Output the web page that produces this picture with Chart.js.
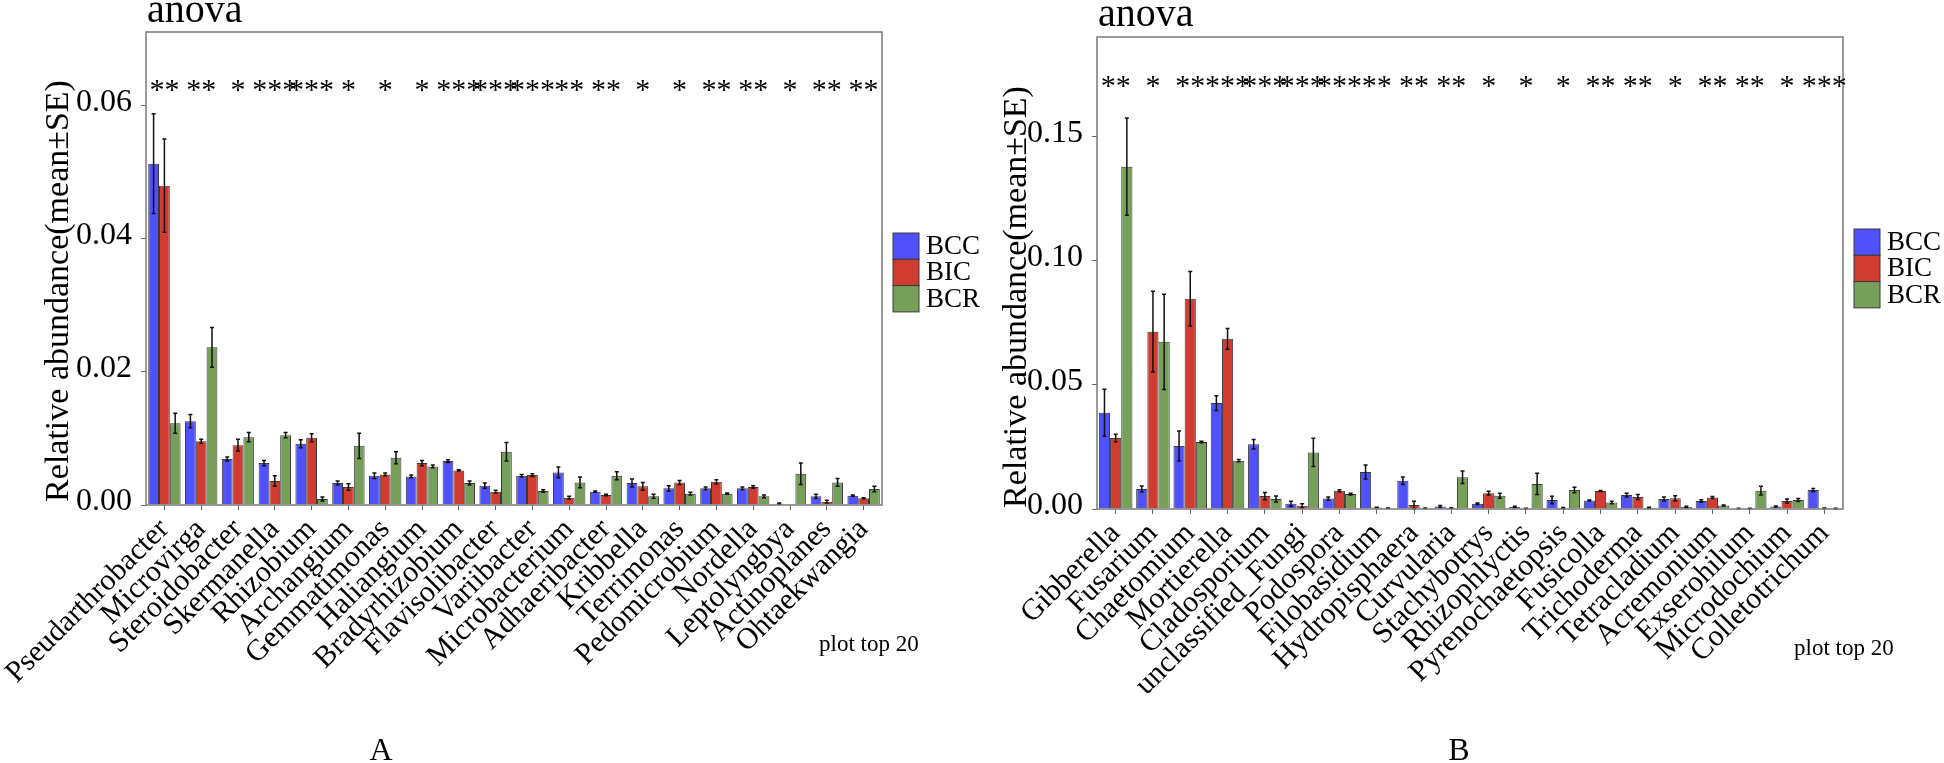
<!DOCTYPE html>
<html>
<head>
<meta charset="utf-8">
<script src="https://cdn.jsdelivr.net/npm/chart.js@4.4.0/dist/chart.umd.min.js"></script>
<style>
  html, body { margin: 0; padding: 0; background: #fff; }
  #wrap { position: relative; width: 1944px; height: 763px; background: #fff; }
  canvas { position: absolute; top: 0; }
  #chartA { left: 0; }
  #chartB { left: 972px; }
</style>
</head>
<body>
<div id="wrap">
  <canvas id="chartA" width="1000" height="763"></canvas>
  <canvas id="chartB" width="972" height="763"></canvas>
</div>
<script>
// groups and colours
const groups = ['BCC', 'BIC', 'BCR'];
const groupColors = ['#5151fc', '#d13c30', '#76a05a'];

// panel A - bacteria
const generaA = ['Pseudarthrobacter', 'Microvirga', 'Steroidobacter', 'Skermanella', 'Rhizobium',
  'Archangium', 'Gemmatimonas', 'Haliangium', 'Bradyrhizobium', 'Flavisolibacter',
  'Variibacter', 'Microbacterium', 'Adhaeribacter', 'Kribbella', 'Terrimonas',
  'Pedomicrobium', 'Nordella', 'Leptolyngbya', 'Actinoplanes', 'Ohtaekwangia'];
const bccA = [0.0513, 0.0126, 0.0069, 0.0063, 0.0092, 0.0033, 0.0044, 0.0043, 0.0066, 0.0029,
  0.0044, 0.0049, 0.0020, 0.0033, 0.0025, 0.0025, 0.0025, 0.0002, 0.0013, 0.0014];
const bicA = [0.0480, 0.0096, 0.0090, 0.0036, 0.0101, 0.0027, 0.0046, 0.0063, 0.0052, 0.0020,
  0.0045, 0.0011, 0.0015, 0.0028, 0.0034, 0.0035, 0.0027, 0.00005, 0.0005, 0.0010];
const bcrA = [0.0123, 0.0237, 0.0102, 0.0105, 0.0009, 0.0089, 0.0071, 0.0058, 0.0033, 0.0080,
  0.0021, 0.0034, 0.0044, 0.0013, 0.0017, 0.0017, 0.0013, 0.0047, 0.0034, 0.0024];
const bccSeA = [0.0075, 0.0010, 0.0003, 0.0004, 0.0006, 0.0003, 0.0004, 0.0002, 0.0002, 0.0004,
  0.0002, 0.0008, 0.0001, 0.0006, 0.0004, 0.0002, 0.0002, 0.0001, 0.0003, 0.0001];
const bicSeA = [0.0070, 0.0003, 0.0009, 0.0008, 0.0006, 0.0005, 0.0002, 0.0004, 0.0001, 0.0002,
  0.0002, 0.0002, 0.0001, 0.0006, 0.0003, 0.0003, 0.0002, 0.0000, 0.0002, 0.0001];
const bcrSeA = [0.0015, 0.0030, 0.0007, 0.0004, 0.0003, 0.0019, 0.0009, 0.0002, 0.0003, 0.0014,
  0.0002, 0.0008, 0.0006, 0.0003, 0.0002, 0.0001, 0.0002, 0.0016, 0.0006, 0.0004];
const sigA = ['**', '**', '*', '***', '***', '*', '*', '*', '***', '***',
  '***', '**', '**', '*', '*', '**', '**', '*', '**', '**'];
const yTicksA = [0, 0.02, 0.04, 0.06];

// panel B - fungi
const generaB = ['Gibberella', 'Fusarium', 'Chaetomium', 'Mortierella', 'Cladosporium',
  'unclassified_Fungi', 'Podospora', 'Filobasidium', 'Hydropisphaera', 'Curvularia',
  'Stachybotrys', 'Rhizophlyctis', 'Pyrenochaetopsis', 'Fusicolla', 'Trichoderma',
  'Tetracladium', 'Acremonium', 'Exserohilum', 'Microdochium', 'Colletotrichum'];
const bccB = [0.0388, 0.0081, 0.0254, 0.0427, 0.0261, 0.0021, 0.0042, 0.0149, 0.0114, 0.0010,
  0.0021, 0.0008, 0.0036, 0.0034, 0.0056, 0.0040, 0.0032, 0.0002, 0.0010, 0.0077];
const bicB = [0.0286, 0.0715, 0.0848, 0.0686, 0.0052, 0.0013, 0.0074, 0.0006, 0.0016, 0.0004,
  0.0064, 0.0002, 0.0004, 0.0073, 0.0048, 0.0043, 0.0046, 0.0002, 0.0032, 0.0003];
const bcrB = [0.1380, 0.0674, 0.0270, 0.0195, 0.0040, 0.0228, 0.0060, 0.0003, 0.0003, 0.0128,
  0.0053, 0.0101, 0.0077, 0.0026, 0.0005, 0.0008, 0.0014, 0.0074, 0.0036, 0.0002];
const bccSeB = [0.0095, 0.0012, 0.0060, 0.0030, 0.0019, 0.0010, 0.0006, 0.0028, 0.0015, 0.0004,
  0.0003, 0.0003, 0.0015, 0.0002, 0.0008, 0.0008, 0.0005, 0.0001, 0.0002, 0.0006];
const bicSeB = [0.0015, 0.0163, 0.0110, 0.0042, 0.0015, 0.0008, 0.0004, 0.0001, 0.0015, 0.0001,
  0.0008, 0.0001, 0.0002, 0.0002, 0.0010, 0.0010, 0.0004, 0.0001, 0.0008, 0.0001];
const bcrSeB = [0.0196, 0.0192, 0.0003, 0.0005, 0.0012, 0.0057, 0.0004, 0.0001, 0.0001, 0.0025,
  0.0010, 0.0043, 0.0011, 0.0005, 0.0002, 0.0003, 0.0002, 0.0018, 0.0006, 0.0001];
const sigB = ['**', '*', '**', '***', '***', '***', '***', '**', '**', '**',
  '*', '*', '*', '**', '**', '*', '**', '**', '*', '***'];
const yTicksB = [0, 0.05, 0.10, 0.15];

const serif = '"Liberation Serif", "Times New Roman", serif';

// error bars, frame, stars, legend and captions
const decor = {
  id: 'decor',
  afterDatasetsDraw(chart) {
    const ctx = chart.ctx;
    const y = chart.scales.y;
    const se = chart.options.plugins.decor.se;
    ctx.save();
    ctx.strokeStyle = '#111';
    ctx.lineWidth = 1.5;
    chart.data.datasets.forEach((ds, i) => {
      chart.getDatasetMeta(i).data.forEach((bar, j) => {
        const e = se[i][j];
        if (!e) return;
        const top = y.getPixelForValue(ds.data[j] + e);
        const bot = y.getPixelForValue(Math.max(ds.data[j] - e, 0));
        ctx.beginPath();
        ctx.moveTo(bar.x, top); ctx.lineTo(bar.x, bot);
        ctx.moveTo(bar.x - 2, top); ctx.lineTo(bar.x + 2, top);
        ctx.moveTo(bar.x - 2, bot); ctx.lineTo(bar.x + 2, bot);
        ctx.stroke();
      });
    });
    ctx.restore();
  },
  afterDraw(chart) {
    const o = chart.options.plugins.decor;
    const ctx = chart.ctx;
    const a = chart.chartArea;
    const x = chart.scales.x;
    ctx.save();
    // frame
    ctx.strokeStyle = '#7a7a7a';
    ctx.lineWidth = 1.5;
    ctx.strokeRect(a.left, a.top, a.right - a.left, a.bottom - a.top);
    // significance stars
    ctx.fillStyle = '#000';
    ctx.font = '30px ' + serif;
    ctx.textAlign = 'center';
    ctx.textBaseline = 'alphabetic';
    o.sig.forEach((s, j) => ctx.fillText(s, x.getPixelForValue(j), o.starY));
    // title
    ctx.textAlign = 'left';
    ctx.font = '40px ' + serif;
    ctx.fillText('anova', a.left + 1, o.titleY);
    // y axis title
    ctx.save();
    ctx.translate(o.yTitleX, o.yTitleY);
    ctx.rotate(-Math.PI / 2);
    ctx.textAlign = 'center';
    ctx.font = '34px ' + serif;
    ctx.fillText('Relative abundance(mean\u00b1SE)', 0, 0);
    ctx.restore();
    // legend
    const bx = a.right + 11, bh = 26.3;
    const by = o.legendTop;
    ctx.font = '27px ' + serif;
    ctx.textAlign = 'left';
    chart.data.datasets.forEach((ds, i) => {
      ctx.fillStyle = ds.backgroundColor;
      ctx.fillRect(bx, by + i * bh, 26, bh);
      ctx.strokeStyle = '#3a3a3a';
      ctx.lineWidth = 1;
      ctx.strokeRect(bx, by + i * bh, 26, bh);
      ctx.fillStyle = '#000';
      ctx.fillText(ds.label, bx + 33, by + i * bh + 21);
    });
    // footer texts
    ctx.font = '23px ' + serif;
    ctx.fillText('plot top 20', o.noteX, o.noteY);
    ctx.font = '32px ' + serif;
    ctx.textAlign = 'center';
    ctx.fillText(o.letter, o.letterX, 760);
    ctx.restore();
  }
};

function makeChart(id, labels, series, se, ticks, yMax, box, deco) {
  new Chart(document.getElementById(id), {
    type: 'bar',
    data: {
      labels,
      datasets: series.map((d, i) => ({
        label: groups[i],
        data: d,
        backgroundColor: groupColors[i],
        borderColor: '#3a3a3a',
        borderWidth: 1,
        barPercentage: 1,
        categoryPercentage: box.cat
      }))
    },
    options: {
      responsive: false,
      animation: false,
      events: [],
      layout: { padding: { left: 0, top: box.top, right: box.right, bottom: 0 } },
      plugins: {
        legend: { display: false },
        tooltip: { enabled: false },
        decor: Object.assign({ se }, deco)
      },
      scales: {
        x: {
          grid: { display: true, drawOnChartArea: false, drawTicks: true, tickLength: 5, offset: false, color: '#666' },
          border: { display: false },
          ticks: {
            autoSkip: false, minRotation: 45, maxRotation: 45, padding: 2,
            color: '#000', font: { family: serif, size: 30 }
          },
          afterFit: s => { s.height = box.xh; }
        },
        y: {
          min: 0,
          max: yMax,
          afterBuildTicks: s => { s.ticks = ticks.map(v => ({ value: v })); },
          grid: { display: true, drawOnChartArea: false, drawTicks: true, tickLength: 5, color: '#666' },
          border: { display: false },
          ticks: {
            padding: 9, labelOffset: -3, color: '#000',
            font: { family: serif, size: 32 },
            callback: v => Number(v).toFixed(2)
          },
          afterFit: s => { s.width = box.yw; }
        }
      }
    },
    plugins: [decor]
  });
}

makeChart('chartA', generaA, [bccA, bicA, bcrA], [bccSeA, bicSeA, bcrSeA], yTicksA, 0.0711,
  { top: 32, right: 118, xh: 258, yw: 146, cat: 0.88 },
  { sig: sigA, starY: 99, titleY: 22, yTitleX: 68, yTitleY: 291, legendTop: 233,
    noteX: 819, noteY: 651, letter: 'A', letterX: 381 });

makeChart('chartB', generaB, [bccB, bicB, bcrB], [bccSeB, bicSeB, bcrSeB], yTicksB, 0.1903,
  { top: 37, right: 101, xh: 254, yw: 125, cat: 0.9 },
  { sig: sigB, starY: 95, titleY: 26, yTitleX: 54, yTitleY: 297, legendTop: 229,
    noteX: 822, noteY: 655, letter: 'B', letterX: 487 });
</script>
</body>
</html>
